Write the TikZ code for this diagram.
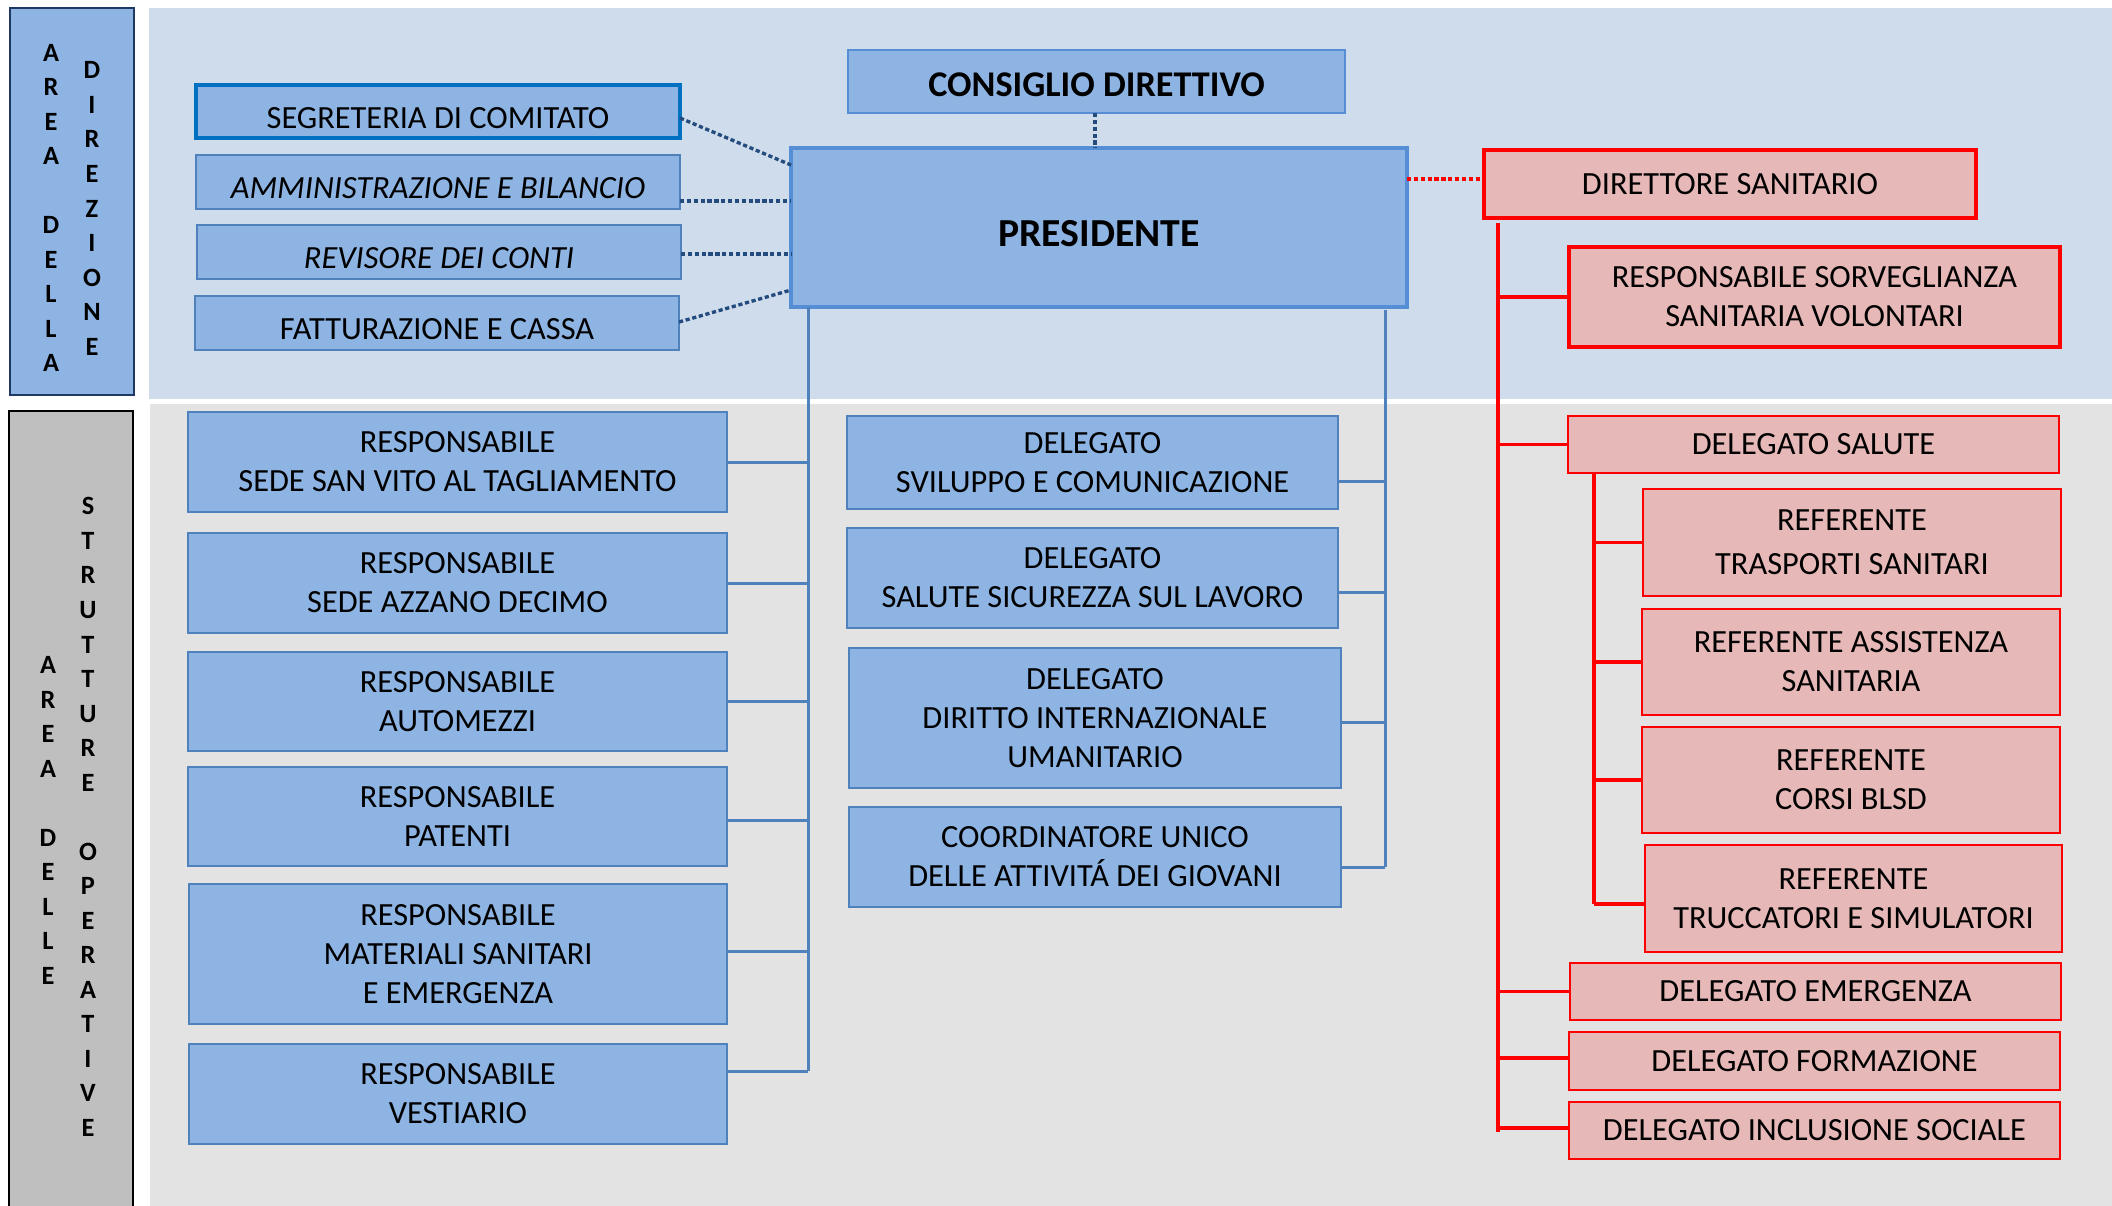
\documentclass[tikz,border=0pt]{standalone}
\usepackage{fontspec}
\setmainfont{Carlito}
\usetikzlibrary{calc}
\definecolor{bandtop}{HTML}{CFDCEC}
\definecolor{bandgrey}{HTML}{E3E3E3}
\definecolor{bfill}{HTML}{8EB4E3}
\definecolor{bline}{HTML}{4F81BD}
\definecolor{pline}{HTML}{558ED5}
\definecolor{segline}{HTML}{0070C0}
\definecolor{rfill}{HTML}{E6B9B8}
\definecolor{rline}{HTML}{FF0000}
\definecolor{navy}{HTML}{1F3864}
\definecolor{dotblue}{HTML}{234B7E}
\definecolor{lgrey}{HTML}{BFBFBF}
\definecolor{conblue}{HTML}{4F81BD}
\newcommand\orgbox[7]{\node[#1, minimum width={(#5-#3)*0.01cm}, minimum height={(#6-#4)*0.01cm}] (#2) at ({(#3+#5)/2},{(#4+#6)/2}) {#7};}
\begin{document}
\begin{tikzpicture}[x=0.01cm, y=-0.01cm,
  base/.style={rectangle, inner sep=0pt, outer sep=0pt, align=center, font=\fontsize{9.2}{11.1}\selectfont, text=black},
  bbox/.style={base, fill=bfill, draw=bline, line width=0.6pt},
  low/.style={text height=9.6pt, text depth=0pt},
  segbox/.style={bbox, low, draw=segline, line width=0.95pt},
  itbox/.style={bbox, low, font=\fontsize{9.2}{11.1}\selectfont\itshape},
  tbox/.style={bbox, low},
  presbox/.style={bbox, draw=pline, line width=1.15pt, font=\fontsize{11.3}{13}\selectfont\bfseries, text height=11pt, text depth=0pt},
  consbox/.style={bbox, draw=pline, line width=0.75pt, font=\fontsize{10.3}{12}\selectfont\bfseries, text height=8.3pt, text depth=0pt},
  rbox/.style={base, fill=rfill, draw=rline, line width=0.55pt},
  rthick/.style={rbox, line width=1pt},
  lbl/.style={align=center, inner sep=0pt, font=\fontsize{7.5}{9.82}\selectfont\bfseries},
  conb/.style={draw=conblue, line width=0.85pt},
  conr/.style={draw=rline, line width=1pt},
  dotb/.style={draw=dotblue, line width=0.95pt, dash pattern=on 1.2pt off 0.75pt},
  dotr/.style={draw=rline, line width=0.95pt, dash pattern=on 1.2pt off 0.75pt}
]
\useasboundingbox (0,0) rectangle (2112,1205);
\fill[white] (0,0) rectangle (2112,1205);
% bands
\fill[bandtop] (149,8) rectangle (2112,399);
\fill[bandgrey] (150,404) rectangle (2112,1210);
% side labels
\draw[fill=bfill, draw=navy, line width=0.6pt] (10,8) rectangle (134,395);
\draw[fill=lgrey, draw=black, line width=0.6pt] (9,411) rectangle (133,1215);
\node[lbl] (l1) at (51,208) {A\\R\\E\\A\\[9.82pt]D\\E\\L\\L\\A};
\node[lbl] (l2) at (92,208.5) {D\\I\\R\\E\\Z\\I\\O\\N\\E};
\node[lbl] (l3) at (48,820.5) {A\\R\\E\\A\\[9.82pt]D\\E\\L\\L\\E};
\node[lbl] (l4) at (88,817) {S\\T\\R\\U\\T\\T\\U\\R\\E\\[9.82pt]O\\P\\E\\R\\A\\T\\I\\V\\E};
% top area
\orgbox{consbox}{cons}{848}{50}{1345}{113}{CONSIGLIO DIRETTIVO}
\orgbox{presbox}{pres}{791}{148}{1407}{307}{PRESIDENTE}
\orgbox{segbox}{segr}{196}{85}{680}{138}{SEGRETERIA DI COMITATO}
\orgbox{itbox}{ammin}{196}{155}{680}{209}{AMMINISTRAZIONE E BILANCIO}
\orgbox{itbox}{revis}{197}{225}{681}{279}{REVISORE DEI CONTI}
\orgbox{tbox}{fatt}{195}{296}{679}{350}{FATTURAZIONE E CASSA}
% left column
\orgbox{bbox}{sanvito}{188}{412}{727}{512}{RESPONSABILE\\SEDE SAN VITO AL TAGLIAMENTO}
\orgbox{bbox}{azzano}{188}{533}{727}{633}{RESPONSABILE\\SEDE AZZANO DECIMO}
\orgbox{bbox}{automezzi}{188}{652}{727}{751}{RESPONSABILE\\AUTOMEZZI}
\orgbox{bbox}{patenti}{188}{767}{727}{866}{RESPONSABILE\\PATENTI}
\orgbox{bbox}{materiali}{189}{884}{727}{1024}{RESPONSABILE\\MATERIALI SANITARI\\E EMERGENZA}
\orgbox{bbox}{vestiario}{189}{1044}{727}{1144}{RESPONSABILE\\VESTIARIO}
% middle column
\orgbox{bbox}{sviluppo}{847}{416}{1338}{509}{DELEGATO\\SVILUPPO E COMUNICAZIONE}
\orgbox{bbox}{salutesic}{847}{528}{1338}{628}{DELEGATO\\SALUTE SICUREZZA SUL LAVORO}
\orgbox{bbox}{diritto}{849}{648}{1341}{788}{DELEGATO\\DIRITTO INTERNAZIONALE\\UMANITARIO}
\orgbox{bbox}{coord}{849}{807}{1341}{907}{COORDINATORE UNICO\\DELLE ATTIVITÁ DEI GIOVANI}
% right column
\orgbox{rthick}{direttore}{1484}{150}{1976}{218}{DIRETTORE SANITARIO}
\orgbox{rthick}{sorv}{1569}{247}{2060}{347}{RESPONSABILE SORVEGLIANZA\\SANITARIA VOLONTARI}
\orgbox{rbox}{salute}{1568}{416}{2059}{473}{DELEGATO SALUTE}
\orgbox{rbox}{trasporti}{1643}{489}{2061}{596}{REFERENTE\\[1.4pt]TRASPORTI SANITARI}
\orgbox{rbox}{assistenza}{1642}{609}{2060}{715}{REFERENTE ASSISTENZA\\SANITARIA}
\orgbox{rbox}{corsi}{1642}{727}{2060}{833}{REFERENTE\\CORSI BLSD}
\orgbox{rbox}{truccatori}{1645}{845}{2062}{952}{REFERENTE\\TRUCCATORI E SIMULATORI}
\orgbox{rbox}{emergenza}{1570}{963}{2061}{1020}{DELEGATO EMERGENZA}
\orgbox{rbox}{formazione}{1569}{1032}{2060}{1090}{DELEGATO FORMAZIONE}
\orgbox{rbox}{inclusione}{1569}{1102}{2060}{1159}{DELEGATO INCLUSIONE SOCIALE}
% dotted connectors
\draw[dotb] ($(segr.east)+(0,6.5)$) -- ($(pres.west)+(0,-62.5)$);
\draw[dotb] ($(ammin.east)+(0,19)$) -- ($(pres.west)+(0,-26.5)$);
\draw[dotb] ($(revis.east)+(0,2)$) -- ($(pres.west)+(0,26.5)$);
\draw[dotb] ($(fatt.east)+(0,-1)$) -- ($(pres.west)+(0,62.5)$);
\draw[dotb] ($(cons.south)+(-1.5,0)$) -- ($(cons.south |- pres.north)+(-1.5,0)$);
\draw[dotr] ($(pres.east)+(0,-48.5)$) -- ($(direttore.west)+(0,-5)$);
% left trunk
\coordinate (lt) at (808,1071);
\draw[conb] (pres.south -| lt) -- (lt);
\draw[conb] (sanvito.east) -- (sanvito.east -| lt);
\draw[conb] (azzano.east) -- (azzano.east -| lt);
\draw[conb] (automezzi.east) -- (automezzi.east -| lt);
\draw[conb] ($(patenti.east)+(0,3.5)$) -- ($(patenti.east -| lt)+(0,3.5)$);
\draw[conb] ($(materiali.east)+(0,-3)$) -- ($(materiali.east -| lt)+(0,-3)$);
\draw[conb] (vestiario.east |- lt) -- (lt);
% right trunk
\coordinate (rt) at (1385,867);
\draw[conb] ($(pres.south -| rt)+(0,3)$) -- (rt);
\draw[conb] ($(sviluppo.east)+(0,18.5)$) -- ($(sviluppo.east -| rt)+(0,18.5)$);
\draw[conb] ($(salutesic.east)+(0,14)$) -- ($(salutesic.east -| rt)+(0,14)$);
\draw[conb] ($(diritto.east)+(0,4)$) -- ($(diritto.east -| rt)+(0,4)$);
\draw[conb] (coord.east |- rt) -- (rt);
% red trunk
\coordinate (redt) at (1498,1132);
\draw[conr] ($(direttore.south -| redt)+(0,5)$) -- (redt);
\draw[conr] (sorv.west) -- (sorv.west -| redt);
\draw[conr] (salute.west) -- (salute.west -| redt);
\draw[conr] (emergenza.west) -- (emergenza.west -| redt);
\draw[conr] ($(formazione.west)+(0,-3)$) -- ($(formazione.west -| redt)+(0,-3)$);
\draw[conr] ($(inclusione.west)+(0,-2.5)$) -- ($(inclusione.west -| redt)+(0,-2.5)$);
% sub trunk
\coordinate (st) at (1594,904);
\draw[conr] (salute.south -| st) -- (st);
\draw[conr] (trasporti.west) -- (trasporti.west -| st);
\draw[conr] (assistenza.west) -- (assistenza.west -| st);
\draw[conr] (corsi.west) -- (corsi.west -| st);
\draw[conr] (truccatori.west |- st) -- (st);
\end{tikzpicture}
\end{document}
